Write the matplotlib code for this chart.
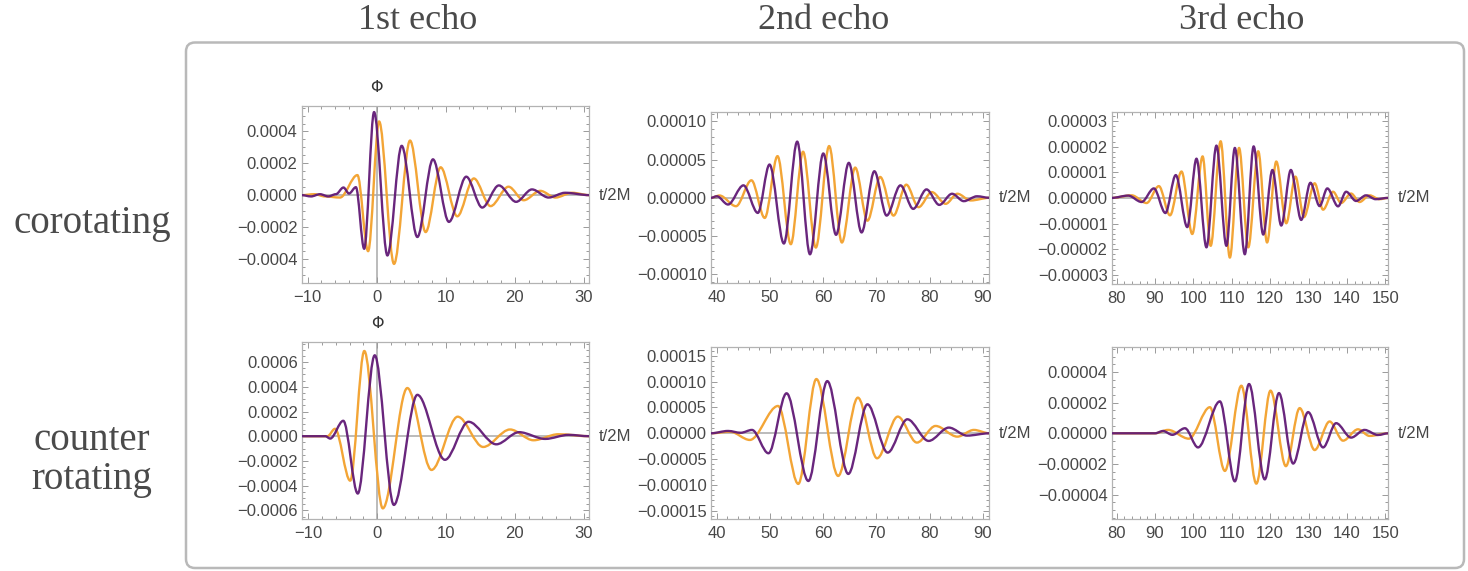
import matplotlib
matplotlib.use('Agg')
import matplotlib.pyplot as plt
from matplotlib.path import Path
from matplotlib.patches import PathPatch, FancyBboxPatch
from matplotlib.ticker import MultipleLocator, FuncFormatter

# extrema (t/2M, Phi), purple and orange curves
# corotating, 1st echo
co1_purple_t = [-10.85, -9.5, -8.2, -7.0, -5.9, -4.8, -4.0, -3.0, -1.8, -0.37, 1.56, 3.63, 5.9, 8.16,
                10.47, 12.98, 15.29, 17.7, 20.2, 22.5, 24.9, 27.3, 30.8]
co1_purple_v = [0, -0.000008, 0.000006, -0.000008, 0.000006, 0.000048, 0.00001, 0.00005, -0.000337,
                0.000522, -0.000379, 0.00031, -0.000263, 0.000225, -0.000168, 0.000116, -0.000078,
                0.000061, -0.000042, 0.000036, -0.000015, 0.000015, 0]
co1_orange_t = [-10.85, -9.0, -7.5, -5.3, -2.78, -1.23, 0.36, 2.52, 4.84, 7.1, 9.27, 11.68, 14.08,
                16.5, 19.1, 21.3, 23.7, 25.9, 28.3, 30.8]
co1_orange_v = [0, 0.000006, -0.000008, -0.000015, 0.000126, -0.000352, 0.000463, -0.000432, 0.000343,
                -0.000232, 0.000175, -0.000133, 0.000105, -0.000069, 0.000053, -0.000032, 0.000027,
                -0.000015, 0.000015, 0]

# corotating, 2nd echo
co2_purple_t = [38.9, 40.0, 42.1, 45.0, 47.7, 49.9, 52.6, 55.1, 57.5, 60.0, 62.4, 64.8, 67.2, 69.6,
                71.9, 74.5, 76.9, 79.4, 81.8, 84.2, 86.4, 88.9, 91.2]
co2_purple_v = [0, 0.000002, -0.0000088, 0.0000163, -0.0000198, 0.0000436, -0.0000599, 0.0000736,
                -0.000074, 0.0000581, -0.0000485, 0.0000458, -0.0000454, 0.0000348, -0.0000233,
                0.0000163, -0.0000145, 0.000011, -0.0000093, 0.0000053, -0.0000044, 0.000002, 0]
co2_orange_t = [38.9, 40.5, 43.6, 46.5, 49.0, 51.4, 53.9, 56.2, 58.6, 61.1, 63.5, 66.0, 68.3, 70.7,
                73.2, 75.6, 77.9, 80.4, 83.0, 85.2, 87.7, 91.2]
co2_orange_v = [0, 0.000003, -0.000011, 0.0000229, -0.0000264, 0.0000546, -0.0000608, 0.0000604,
                -0.0000652, 0.0000678, -0.0000586, 0.0000396, -0.00003, 0.0000273, -0.0000233,
                0.0000172, -0.0000123, 0.0000075, -0.0000079, 0.0000053, -0.0000035, 0]

# corotating, 3rd echo
co3_purple_t = [78.7, 83.0, 86.5, 89.7, 92.7, 95.4, 98.4, 100.8, 103.4, 106.0, 108.6, 110.8, 113.4,
                115.7, 118.2, 120.6, 122.9, 125.4, 128.1, 130.5, 132.9, 134.9, 137.7, 139.8, 142.4,
                145.0, 147.5, 150.8]
co3_purple_v = [0, 0.0000009, -0.0000016, 0.0000037, -0.0000059, 0.0000089, -0.0000114, 0.0000153,
                -0.0000193, 0.0000204, -0.0000187, 0.0000195, -0.000022, 0.0000201, -0.0000143,
                0.0000109, -0.0000108, 0.0000109, -0.0000086, 0.0000059, -0.0000032, 0.0000037,
                -0.0000033, 0.0000024, -0.0000012, 0.000001, -0.0000005, 0]
co3_orange_t = [78.7, 83.9, 87.8, 91.0, 93.9, 96.9, 99.7, 102.4, 104.5, 107.1, 109.5, 111.9, 114.3,
                116.9, 119.2, 121.6, 124.2, 126.6, 128.8, 131.6, 133.8, 136.4, 138.5, 141.1, 143.3,
                145.9, 148.5, 150.8]
co3_orange_v = [0, 0.000001, -0.000002, 0.0000046, -0.0000068, 0.0000103, -0.0000141, 0.0000162,
                -0.0000187, 0.0000221, -0.0000233, 0.0000195, -0.0000193, 0.0000182, -0.0000174,
                0.0000142, -0.0000099, 0.0000083, -0.0000075, 0.0000057, -0.0000046, 0.0000024,
                -0.000002, 0.0000017, -0.0000016, 0.000001, -0.0000005, 0]

# counter rotating, 1st echo
cr1_purple_t = [-10.85, -7.5, -6.8, -4.9, -2.8, -0.34, 2.44, 5.85, 9.85, 13.27, 17.3, 20.6, 24.4, 27.8, 30.8]
cr1_purple_v = [0, 0, -0.000019, 0.000125, -0.000464, 0.000655, -0.000556, 0.000335, -0.000191,
                0.000117, -0.0000655, 0.0000327, -0.0000218, 0.0000109, 0]
cr1_orange_t = [-10.85, -7.2, -6.1, -3.9, -1.85, 0.83, 4.39, 7.9, 11.7, 15.4, 19.3, 22.7, 26.3, 30.8]
cr1_orange_v = [0, 0, 0.00006, -0.00036, 0.00069, -0.000584, 0.00039, -0.000273, 0.000158, -0.000087,
                0.0000545, -0.0000327, 0.000016, 0]

# counter rotating, 2nd echo
cr2_purple_t = [38.9, 42.1, 44.5, 46.6, 49.7, 53.1, 57.2, 60.75, 64.7, 68.3, 72.1, 75.8, 79.8, 83.6, 87.0, 91.2]
cr2_purple_v = [0, 0.0000045, 0.000001, 0.0000065, -0.0000387, 0.0000774, -0.0000923, 0.000101,
                -0.0000787, 0.0000561, -0.0000374, 0.0000271, -0.0000148, 0.000011, -0.0000045, 0]
cr2_orange_t = [38.9, 42.5, 46.2, 51.5, 55.3, 58.7, 62.8, 66.5, 70.1, 74.0, 77.6, 81.1, 85.2, 88.3, 91.2]
cr2_orange_v = [0, 0.000003, -0.0000129, 0.0000529, -0.000098, 0.000105, -0.0000826, 0.000069,
                -0.0000484, 0.0000323, -0.000018, 0.0000142, -0.0000065, 0.0000065, 0]

# counter rotating, 3rd echo
cr3_purple_t = [78.7, 90.0, 92.1, 94.5, 97.8, 101.2, 106.9, 110.8, 114.5, 118.6, 122.3, 126.0, 129.9,
                133.8, 137.2, 141.1, 144.6, 148.1, 150.8]
cr3_purple_v = [0, 0, 0.0000015, -0.000001, 0.0000033, -0.0000092, 0.0000208, -0.0000313, 0.0000321,
                -0.00003, 0.0000262, -0.0000197, 0.0000138, -0.0000092, 0.0000066, -0.0000028,
                0.0000022, -0.0000011, 0]
cr3_orange_t = [78.7, 90.0, 93.4, 98.8, 104.3, 108.2, 112.5, 116.4, 120.1, 124.1, 127.7, 131.6, 135.5,
                139.0, 142.9, 145.9, 150.8]
cr3_orange_v = [0, 0, 0.0000022, -0.0000035, 0.000017, -0.0000245, 0.000031, -0.0000328, 0.0000278,
                -0.0000214, 0.0000164, -0.0000109, 0.0000077, -0.0000048, 0.0000026, -0.0000017, 0]

col_titles = ['1st echo', '2nd echo', '3rd echo']
row_titles = ['corotating', 'counter\nrotating']

PURPLE = '#611a76'
ORANGE = '#f3a536'
GREY_TXT = '#474747'
W, H = 1468, 571


def wave_path(t, v):
    # smooth curve through the extrema (flat tangent at each extremum)
    verts = [(t[0], v[0])]
    codes = [Path.MOVETO]
    for i in range(1, len(t)):
        dt = (t[i] - t[i - 1]) / 3.0
        verts += [(t[i - 1] + dt, v[i - 1]), (t[i] - dt, v[i]), (t[i], v[i])]
        codes += [Path.CURVE4] * 3
    return Path(verts, codes)


def fmt(dec):
    def f(x, pos):
        if abs(x) < 1e-12:
            x = 0.0
        return ('%.*f' % (dec, x)).replace('-', '\u2212')
    return FuncFormatter(f)


def px_rect(l, r, top, bot):
    return [l / W, 1 - bot / H, (r - l) / W, (bot - top) / H]


panels = [
    # rect px, xlim, ylim, xmaj, ymaj, ymin, decimals, phi, curves
    (px_rect(301.7, 589.3, 106, 282.7), (-10.85, 30.8), (-0.00055, 0.00056), 10, 0.0002, 0.00005, 4, True,
     (co1_orange_t, co1_orange_v, co1_purple_t, co1_purple_v)),
    (px_rect(711, 989.3, 112.3, 283.3), (38.9, 91.2), (-0.000112, 0.000112), 10, 0.00005, 0.00001, 5, False,
     (co2_orange_t, co2_orange_v, co2_purple_t, co2_purple_v)),
    (px_rect(1111.7, 1388.3, 112.3, 284), (78.7, 150.8), (-0.0000336, 0.0000334), 10, 0.00001, 0.000002, 5, False,
     (co3_orange_t, co3_orange_v, co3_purple_t, co3_purple_v)),
    (px_rect(302.3, 589.3, 341.7, 519), (-10.85, 30.8), (-0.00067, 0.000765), 10, 0.0002, 0.00005, 4, True,
     (cr1_orange_t, cr1_orange_v, cr1_purple_t, cr1_purple_v)),
    (px_rect(711, 989.3, 346.7, 519.3), (38.9, 91.2), (-0.0001665, 0.0001676), 10, 0.00005, 0.00001, 5, False,
     (cr2_orange_t, cr2_orange_v, cr2_purple_t, cr2_purple_v)),
    (px_rect(1111.7, 1388.3, 347.3, 519.3), (78.7, 150.8), (-0.000056, 0.000056), 10, 0.00002, 0.000005, 5, False,
     (cr3_orange_t, cr3_orange_v, cr3_purple_t, cr3_purple_v)),
]

fig = plt.figure(figsize=(W / 100, H / 100), dpi=100)
fig.patch.set_facecolor('white')

# rounded panel box, behind the axes
box = FancyBboxPatch((1.86, 0.03), 14.64 - 1.86, 5.285 - 0.03,
                     boxstyle='round,pad=0,rounding_size=0.09',
                     transform=fig.dpi_scale_trans, facecolor='none',
                     edgecolor='#b9b9b9', lw=1.8, zorder=-5)
fig.patches.append(box)

tick_font = {'family': 'Liberation Sans', 'size': 12, 'color': GREY_TXT}

for rect, xlim, ylim, xmaj, ymaj, ymin, dec, phi, (ot, ov, pt, pv) in panels:
    ax = fig.add_axes(rect)
    ax.set_facecolor('none')
    ax.set_xlim(*xlim)
    ax.set_ylim(*ylim)
    ax.axhline(0, color='#a8a8a8', lw=1.1, zorder=1)
    if phi:
        ax.axvline(0, color='#a8a8a8', lw=1.1, zorder=1)
        ax.annotate('\u03a6', xy=(0, 1), xycoords=('data', 'axes fraction'),
                    xytext=(0, 13), textcoords='offset points', ha='center', va='center',
                    fontsize=11.5, family='DejaVu Sans', color='#333333')
    ax.add_patch(PathPatch(wave_path(ot, ov), facecolor='none', edgecolor=ORANGE,
                           lw=1.7, joinstyle='round', capstyle='round', zorder=2))
    ax.add_patch(PathPatch(wave_path(pt, pv), facecolor='none', edgecolor=PURPLE,
                           lw=1.7, joinstyle='round', capstyle='round', zorder=3, alpha=0.95))

    ax.xaxis.set_major_locator(MultipleLocator(xmaj))
    ax.xaxis.set_minor_locator(MultipleLocator(2))
    ax.yaxis.set_major_locator(MultipleLocator(ymaj))
    ax.yaxis.set_minor_locator(MultipleLocator(ymin))
    ax.xaxis.set_major_formatter(fmt(0))
    ax.yaxis.set_major_formatter(fmt(dec))
    ax.tick_params(which='both', direction='in', top=True, right=True, color='#9a9a9a', width=0.7)
    ax.tick_params(which='major', length=4, pad=5)
    ax.tick_params(which='minor', length=2)
    ax.tick_params(axis='y', pad=3)
    for lab in ax.get_xticklabels() + ax.get_yticklabels():
        lab.set_fontfamily(tick_font['family'])
        lab.set_fontsize(tick_font['size'])
        lab.set_color(tick_font['color'])
    for s in ax.spines.values():
        s.set_color('#b3b3b3')
        s.set_linewidth(0.9)
    ax.annotate('t/2M', xy=(1, 0), xycoords=('axes fraction', 'data'),
                xytext=(7, 0), textcoords='offset points', ha='left', va='center',
                fontsize=12, family='Liberation Sans', color=GREY_TXT)

title_x = [418, 824, 1242]
for x, s in zip(title_x, col_titles):
    fig.text(x / W, 1 - 29 / H, s, ha='center', va='baseline', fontsize=26,
             family='Liberation Serif', color='#4a4a4a')

fig.text(92 / W, 1 - 224 / H, row_titles[0], ha='center', va='center', fontsize=28,
         family='Liberation Serif', color='#4a4a4a')
fig.text(92 / W, 1 - 460 / H, row_titles[1], ha='center', va='center', fontsize=28,
         family='Liberation Serif', color='#4a4a4a', linespacing=1.1)

fig.savefig('out.png', dpi=100)
